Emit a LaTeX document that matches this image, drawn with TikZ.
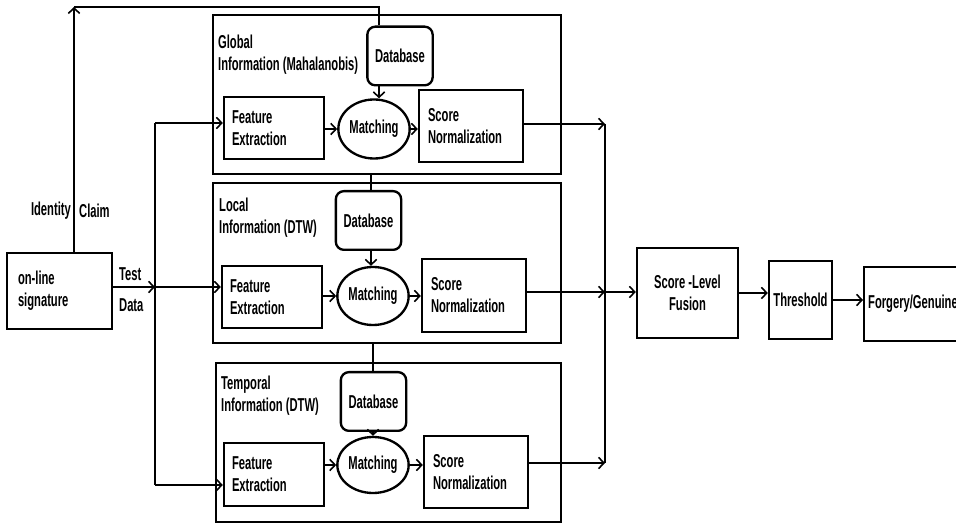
\documentclass[tikz,border=0pt]{standalone}
\usepackage{fontspec}
\newfontfamily\dfam{Liberation Sans}[FakeStretch=0.6]
\usetikzlibrary{arrows.meta,shapes.geometric,calc}
\newcommand{\dfont}{\dfam\bfseries\fontsize{14pt}{16.5pt}\selectfont}
\begin{document}
\begin{tikzpicture}[x=0.75pt, y=-0.75pt, line width=1.75pt, font=\dfont,
  box/.style={draw, rectangle, inner sep=0pt},
  lbox/.style={draw, rectangle, inner sep=0pt, align=left},
  dbase/.style={draw, rectangle, rounded corners=6pt, inner sep=0pt, minimum width=49pt, minimum height=44pt},
  match/.style={draw, ellipse, inner sep=0pt, minimum width=53.5pt},
  ttl/.style={anchor=north west, align=left, inner sep=0pt},
  lbl/.style={inner sep=0pt},
  arr/.style={-{Straight Barb[length=4pt,width=8.5pt,line width=1.2pt]}}]
\useasboundingbox (0,0) rectangle (956,523);
\clip (0,0) rectangle (956,523);

% panels
\node[box, minimum width=261pt, minimum height=119.25pt] (p1) at (387,94.5) {};
\node[box, minimum width=261pt, minimum height=120pt] (p2) at (387,263) {};
\node[box, minimum width=258.75pt, minimum height=119.25pt] (p3) at (388.5,442.5) {};

\node[ttl] (t1) at (217,34) {Global\\Information (Mahalanobis)};
\node[ttl] (t2) at (218,196.5) {Local\\Information (DTW)};
\node[ttl] (t3) at (220,374.5) {Temporal\\Information (DTW)};

% global
\node[lbox, minimum width=75pt, minimum height=46.5pt, text width=63pt] (fe1) at (274,128) {Feature\\Extraction};
\node[match, minimum height=44.25pt] (m1) at (374,129) {Matching};
\node[dbase] (db1) at (400,56) {Database};
\node[lbox, minimum width=78pt, minimum height=54pt, text width=64.5pt] (sn1) at (471,126) {Score\\Normalization};

% local
\node[lbox, minimum width=75pt, minimum height=46.5pt, text width=63pt] (fe2) at (272,297) {Feature\\Extraction};
\node[match, minimum height=43.5pt] (m2) at (373,296) {Matching};
\node[dbase] (db2) at (368.5,220.5) {Database};
\node[lbox, minimum width=78pt, minimum height=54.75pt, text width=64.5pt] (sn2) at (474,295.5) {Score\\Normalization};

% temporal
\node[lbox, minimum width=75pt, minimum height=47.25pt, text width=63pt] (fe3) at (274,474.5) {Feature\\Extraction};
\node[match, minimum height=42pt] (m3) at (373,465) {Matching};
\node[dbase] (db3) at (373.5,401.5) {Database};
\node[lbox, minimum width=78pt, minimum height=54pt, text width=64.5pt] (sn3) at (476,472) {Score\\Normalization};

% input
\node[lbox, minimum width=78.75pt, minimum height=57pt, text width=62.25pt] (sig) at (59.5,291) {on-line\\signature};
\node[lbl, anchor=east] (idl) at (72,211) {Identity};
\node[lbl, anchor=west] (cll) at (78,211) {Claim};
\node[lbl, anchor=west] (tst) at (118,274) {Test};
\node[lbl, anchor=west] (dat) at (118,305) {Data};

% output
\node[box, minimum width=75.75pt, minimum height=67.5pt, align=center] (slf) at (687.5,293) {Score -Level\\Fusion};
\node[box, minimum width=47.25pt, minimum height=58.5pt] (thr) at (800.5,300) {Threshold};
\node[lbox, minimum width=76.5pt, minimum height=55.5pt, text width=70.5pt, anchor=west] (fg) at (863,304) {Forgery/Genuine};

% identity claim path
\coordinate (c1) at (74,7);
\coordinate (c2) at (379,7);
\draw[arr] (sig.north -| c1) -- (c1);
\draw (c1) -- (c2) -- (db1.north -| c2);

% test data bus
\coordinate (b1) at (155,123);
\coordinate (b2) at (155,287);
\coordinate (b3) at (155,485);
\draw (b1) -- (b3);
\draw[arr] (sig.east |- b2) -- (b2);
\draw[arr] (b2) -- (fe2.west |- b2);
\draw[arr] (b1) -- (fe1.west |- b1);
\draw[arr] (b3) -- (fe3.west |- b3);

% inner flows
\draw[arr] (fe1.east |- m1) -- (m1.west);
\draw[arr] (m1.east) -- (sn1.west |- m1);
\draw[arr] (db1.south -| c2) -- (m1.north -| c2);

\coordinate (k2) at (371,174);
\draw (k2) -- (db2.north -| k2);
\draw[arr] (db2.south -| k2) -- (m2.north -| k2);
\draw[arr] (fe2.east |- m2) -- (m2.west);
\draw[arr] (m2.east) -- (sn2.west |- m2);

\coordinate (k3) at (373,343);
\draw (k3) -- (db3.north -| k3);
\draw[arr] (db3.south -| k3) -- (m3.north -| k3);
\draw[arr] (fe3.east |- m3) -- (m3.west);
\draw[arr] (m3.east) -- (sn3.west |- m3);

% output bus
\coordinate (r1) at (605,124);
\coordinate (r2) at (605,292);
\coordinate (r3) at (605,463);
\draw (r1) -- (r3);
\draw[arr] (sn1.east |- r1) -- (r1);
\draw[arr] (sn2.east |- r2) -- (r2);
\draw[arr] (sn3.east |- r3) -- (r3);
\draw[arr] (r2) -- (slf.west |- r2);
\draw[arr] (slf.east) -- (thr.west |- slf.east);
\draw[arr] (thr.east) -- (fg.west |- thr.east);
\end{tikzpicture}
\end{document}
